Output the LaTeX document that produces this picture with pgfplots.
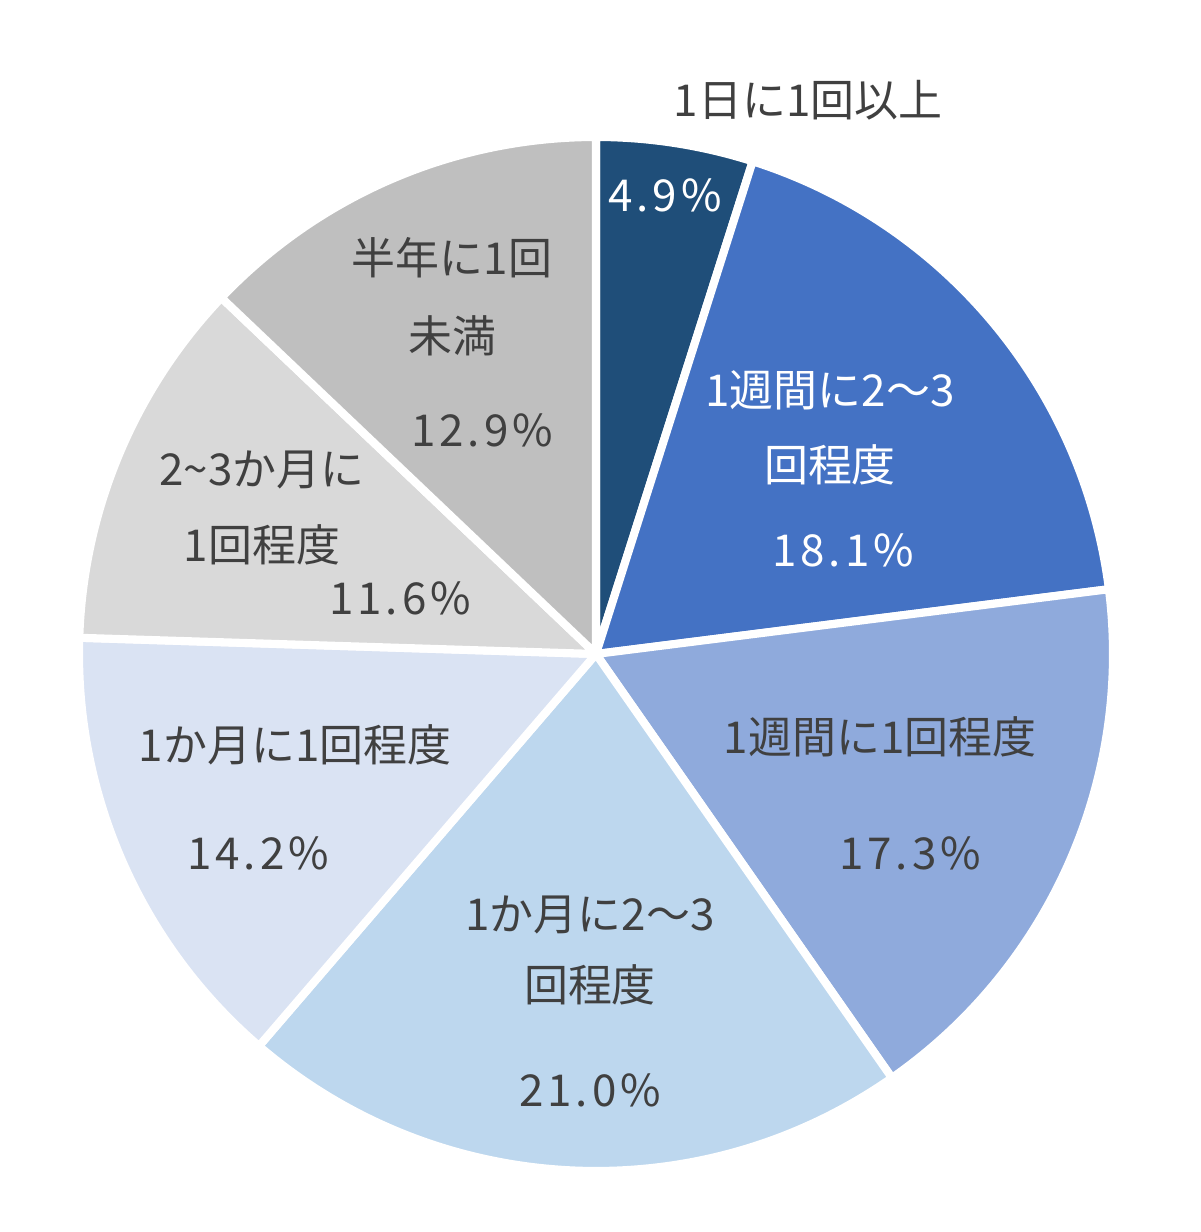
\documentclass[border=0pt]{standalone}
\usepackage{fontspec}
\setmainfont{Noto Sans CJK JP}
\newfontfamily\numfont[LetterSpace=9]{Noto Sans CJK JP}
\usepackage{pgfplots}
\usepackage{pgfplotstable}
\pgfplotsset{compat=1.18}
\definecolor{c1}{HTML}{1F4E79}
\definecolor{c2}{HTML}{4472C4}
\definecolor{c3}{HTML}{8FAADC}
\definecolor{c4}{HTML}{BDD7EE}
\definecolor{c5}{HTML}{DAE3F3}
\definecolor{c6}{HTML}{D9D9D9}
\definecolor{c7}{HTML}{BFBFBF}
\definecolor{txt}{HTML}{404040}
\pgfplotstableread[col sep=comma]{
value,color
4.9,c1
18.1,c2
17.3,c3
21.0,c4
14.2,c5
11.6,c6
12.9,c7
}\piedata
\newcommand\pieslice[3]{\fill[#1, draw=white, line width=2.3pt, line join=round] (axis cs:596,578) -- ++(#2:5.17cm) arc[start angle=#2, end angle=#3, radius=5.17cm] -- cycle;}
\begin{document}
\def\pieslices{}%
\gdef\cum{0}%
\foreach \i in {0,...,6}{%
  \pgfplotstablegetelem{\i}{value}\of\piedata
  \let\val\pgfplotsretval
  \pgfplotstablegetelem{\i}{color}\of\piedata
  \let\col\pgfplotsretval
  \pgfmathsetmacro\sa{90-3.6*\cum}%
  \pgfmathsetmacro\newcum{\cum+\val}%
  \pgfmathsetmacro\ea{90-3.6*\newcum}%
  \xdef\cum{\newcum}%
  \xdef\pieslices{\unexpanded\expandafter{\pieslices}\noexpand\pieslice{\col}{\sa}{\ea}}%
}%
\begin{tikzpicture}
\begin{axis}[width=12cm, height=12.32cm, scale only axis,
  xmin=0, xmax=1200, ymin=0, ymax=1232, hide axis, clip=false]
\path (axis cs:0,0) (axis cs:1200,1232);
\pieslices
\tikzset{lbl/.style={font=\fontsize{12.5}{15}\selectfont, text=txt, inner sep=0pt},
  num/.style={lbl, font=\numfont\fontsize{12.5}{15}\selectfont}}
\node[lbl] at (axis cs:808,1132) {1日に1回以上};
\node[num, text=white] at (axis cs:665,1037) {4.9\%};
\node[lbl, text=white] at (axis cs:830,842) {1週間に2～3};
\node[lbl, text=white] at (axis cs:830,767) {回程度};
\node[num, text=white] at (axis cs:843,682) {18.1\%};
\node[lbl] at (axis cs:880,495) {1週間に1回程度};
\node[num] at (axis cs:910,379) {17.3\%};
\node[lbl] at (axis cs:590,317) {1か月に2～3};
\node[lbl] at (axis cs:590,247) {回程度};
\node[num] at (axis cs:590,142) {21.0\%};
\node[lbl] at (axis cs:295,487) {1か月に1回程度};
\node[num] at (axis cs:258,379) {14.2\%};
\node[lbl] at (axis cs:262,762) {2\textasciitilde 3か月に};
\node[lbl] at (axis cs:262,687) {1回程度};
\node[num] at (axis cs:400,634) {11.6\%};
\node[lbl] at (axis cs:452,974) {半年に1回};
\node[lbl] at (axis cs:452,896) {未満};
\node[num] at (axis cs:482,802) {12.9\%};
\end{axis}
\end{tikzpicture}
\end{document}
